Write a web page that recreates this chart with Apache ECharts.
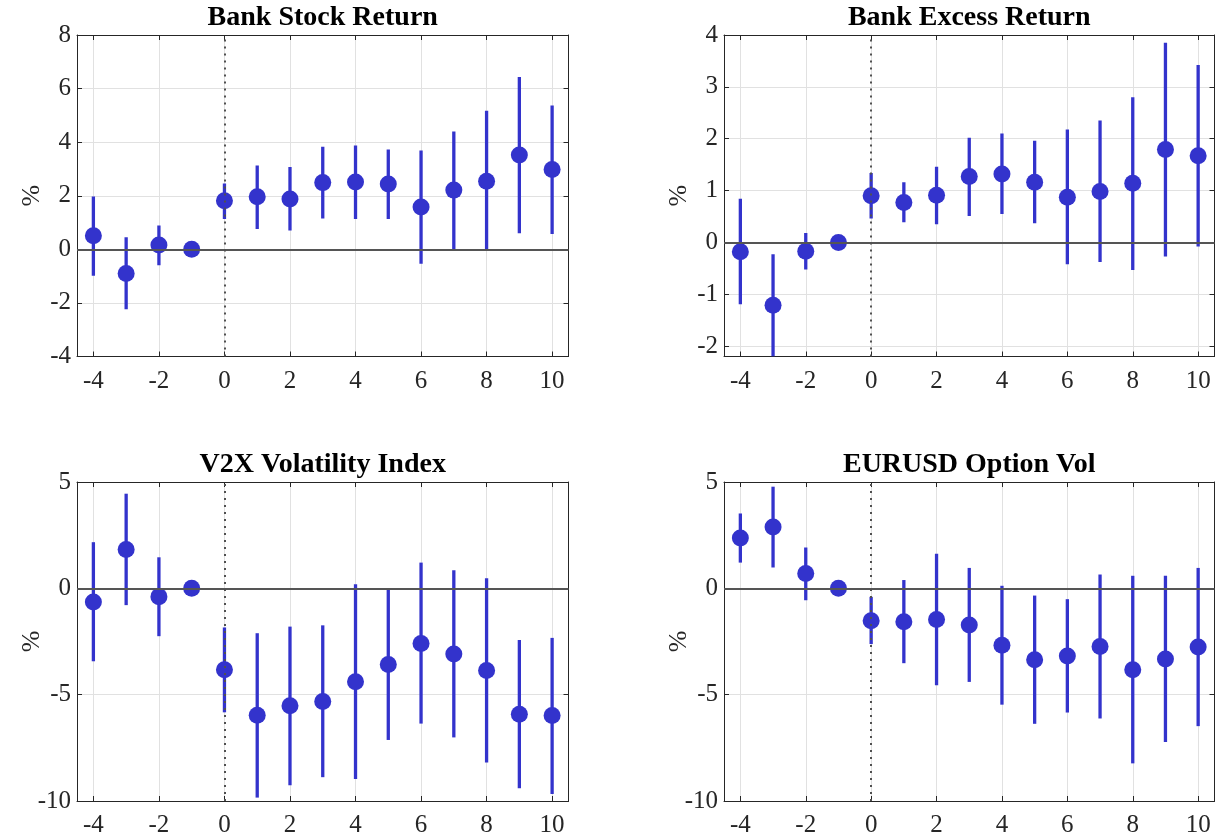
<!DOCTYPE html>
<html>
<head>
<meta charset="utf-8">
<script src="https://cdn.jsdelivr.net/npm/echarts@6/dist/echarts.min.js"></script>
<style>
  html, body { margin: 0; padding: 0; background: #ffffff; }
  #chart { width: 1220px; height: 838px; }
</style>
</head>
<body>
<div id="chart"></div>
<script>
// Event-study horizons and axis ticks
const horizons = [-4, -3, -2, -1, 0, 1, 2, 3, 4, 5, 6, 7, 8, 9, 10];
const xTicks = [-4, -2, 0, 2, 4, 6, 8, 10];

// Bank Stock Return: point estimate and confidence band (%)
const stockEst = [0.51, -0.90, 0.16, 0, 1.81, 1.96, 1.88, 2.49, 2.51, 2.44, 1.58, 2.21, 2.54, 3.52, 2.98];
const stockLo  = [-0.99, -2.24, -0.59, 0, 1.13, 0.76, 0.70, 1.15, 1.13, 1.13, -0.54, 0.00, -0.05, 0.60, 0.57];
const stockHi  = [1.97, 0.45, 0.89, 0, 2.46, 3.13, 3.07, 3.83, 3.88, 3.73, 3.69, 4.40, 5.17, 6.43, 5.37];
const stockTicks = [-4, -2, 0, 2, 4, 6, 8];

// Bank Excess Return
const excessEst = [-0.18, -1.21, -0.17, 0, 0.90, 0.77, 0.91, 1.27, 1.32, 1.16, 0.87, 0.98, 1.14, 1.79, 1.67];
const excessLo  = [-1.19, -2.20, -0.52, 0, 0.46, 0.39, 0.35, 0.51, 0.55, 0.37, -0.42, -0.38, -0.53, -0.27, -0.08];
const excessHi  = [0.84, -0.23, 0.18, 0, 1.34, 1.16, 1.46, 2.02, 2.10, 1.96, 2.18, 2.35, 2.80, 3.85, 3.42];
const excessTicks = [-2, -1, 0, 1, 2, 3, 4];

// V2X Volatility Index
const v2xEst = [-0.64, 1.83, -0.39, 0, -3.83, -5.97, -5.52, -5.32, -4.39, -3.58, -2.59, -3.09, -3.86, -5.92, -5.98];
const v2xLo  = [-3.43, -0.79, -2.25, 0, -5.83, -9.84, -9.26, -8.88, -8.96, -7.13, -6.36, -7.01, -8.19, -9.40, -9.67];
const v2xHi  = [2.17, 4.45, 1.46, 0, -1.84, -2.11, -1.80, -1.74, 0.19, -0.03, 1.21, 0.85, 0.47, -2.43, -2.33];
const v2xTicks = [-10, -5, 0, 5];

// EURUSD Option Vol
const eurEst = [2.37, 2.88, 0.70, 0, -1.52, -1.57, -1.47, -1.72, -2.68, -3.36, -3.18, -2.74, -3.83, -3.32, -2.76];
const eurLo  = [1.21, 0.98, -0.56, 0, -2.62, -3.52, -4.56, -4.40, -5.47, -6.37, -5.84, -6.12, -8.23, -7.22, -6.48];
const eurHi  = [3.52, 4.78, 1.92, 0, -0.40, 0.39, 1.63, 0.96, 0.12, -0.34, -0.51, 0.65, 0.59, 0.59, 0.96];
const eurTicks = [-10, -5, 0, 5];

const panelTitles = ['Bank Stock Return', 'Bank Excess Return', 'V2X Volatility Index', 'EURUSD Option Vol'];

const panels = [
  { title: panelTitles[0], est: stockEst, lo: stockLo, hi: stockHi, ticks: stockTicks, min: -4, max: 8 },
  { title: panelTitles[1], est: excessEst, lo: excessLo, hi: excessHi, ticks: excessTicks, min: -2.2, max: 4 },
  { title: panelTitles[2], est: v2xEst, lo: v2xLo, hi: v2xHi, ticks: v2xTicks, min: -10, max: 5 },
  { title: panelTitles[3], est: eurEst, lo: eurLo, hi: eurHi, ticks: eurTicks, min: -10, max: 5 }
];

const grids = [
  { left: 77, top: 35, width: 491.5, height: 321.5 },
  { left: 724, top: 35, width: 490.5, height: 321.5 },
  { left: 77, top: 482, width: 491.5, height: 322 },
  { left: 724, top: 482, width: 490.5, height: 322 }
];

const SERIF = '"Liberation Serif", "Times New Roman", serif';
const BLUE = '#3333cc';
const AXIS = '#262626';
const GRIDLINE = '#e1e1e1';

const xAxes = [], yAxes = [], series = [], graphics = [];

panels.forEach((p, i) => {
  const g = grids[i];
  const common = { type: 'value', gridIndex: i };
  const line = { show: true, onZero: false, lineStyle: { color: AXIS, width: 1 } };
  const tickX = { show: true, inside: true, length: 5, customValues: xTicks, lineStyle: { color: AXIS, width: 1 } };
  const tickY = { show: true, inside: true, length: 5, customValues: p.ticks, lineStyle: { color: AXIS, width: 1 } };

  // bottom and top x axes (box with inward ticks)
  xAxes.push(Object.assign({}, common, {
    min: -4.5, max: 10.5, position: 'bottom',
    axisLine: line, axisTick: tickX,
    axisLabel: { customValues: xTicks, fontFamily: SERIF, fontSize: 25, color: AXIS, margin: 12 },
    splitLine: { show: true, lineStyle: { color: GRIDLINE, width: 1 } }
  }));
  xAxes.push(Object.assign({}, common, {
    min: -4.5, max: 10.5, position: 'top',
    axisLine: line, axisTick: tickX,
    axisLabel: { show: false }, splitLine: { show: false }
  }));

  // left and right y axes
  yAxes.push(Object.assign({}, common, {
    min: p.min, max: p.max, position: 'left',
    axisLine: line, axisTick: tickY,
    axisLabel: { customValues: p.ticks, fontFamily: SERIF, fontSize: 25, color: AXIS, margin: 6 },
    splitLine: { show: true, lineStyle: { color: GRIDLINE, width: 1 } },
    name: '%', nameLocation: 'middle', nameGap: 32, nameRotate: 90, nameMoveOverlap: false,
    nameTextStyle: { fontFamily: SERIF, fontSize: 26, color: AXIS }
  }));
  yAxes.push(Object.assign({}, common, {
    min: p.min, max: p.max, position: 'right',
    axisLine: line, axisTick: tickY,
    axisLabel: { show: false }, splitLine: { show: false }
  }));

  const xi = 2 * i, yi = 2 * i;

  // reference lines: zero level and event date
  series.push({
    type: 'scatter', xAxisIndex: xi, yAxisIndex: yi, data: [], z: 1, silent: true,
    markLine: {
      silent: true, symbol: 'none', animation: false,
      label: { show: false },
      data: [
        { yAxis: 0, lineStyle: { color: '#555555', width: 2, type: 'solid' } },
        { xAxis: 0, lineStyle: { color: '#505050', width: 2, type: [2, 5] } }
      ]
    }
  });

  // confidence bands as vertical bars
  series.push({
    type: 'custom', xAxisIndex: xi, yAxisIndex: yi, z: 3, clip: true, silent: true,
    data: horizons.map((h, k) => [h, p.lo[k], p.hi[k]]),
    encode: { x: 0, y: [1, 2] },
    renderItem: (params, api) => {
      const x = api.value(0);
      const a = api.coord([x, api.value(1)]);
      const b = api.coord([x, api.value(2)]);
      return {
        type: 'line',
        shape: { x1: a[0], y1: a[1], x2: b[0], y2: b[1] },
        style: { stroke: BLUE, lineWidth: 3.3 }
      };
    }
  });

  // point estimates
  series.push({
    type: 'scatter', xAxisIndex: xi, yAxisIndex: yi, z: 4, silent: true,
    symbol: 'circle', symbolSize: 17,
    itemStyle: { color: BLUE, opacity: 1 },
    data: horizons.map((h, k) => [h, p.est[k]])
  });

  // panel title
  graphics.push({
    type: 'text',
    x: g.left + g.width / 2,
    y: g.top - 17,
    style: {
      text: p.title, fill: '#000000',
      font: 'bold 28px ' + SERIF,
      textAlign: 'center', textVerticalAlign: 'middle'
    }
  });
});

const chart = echarts.init(document.getElementById('chart'), null, { renderer: 'canvas' });
chart.setOption({
  animation: false,
  backgroundColor: '#ffffff',
  grid: grids,
  xAxis: xAxes,
  yAxis: yAxes,
  series: series,
  graphic: graphics
});
</script>
</body>
</html>
